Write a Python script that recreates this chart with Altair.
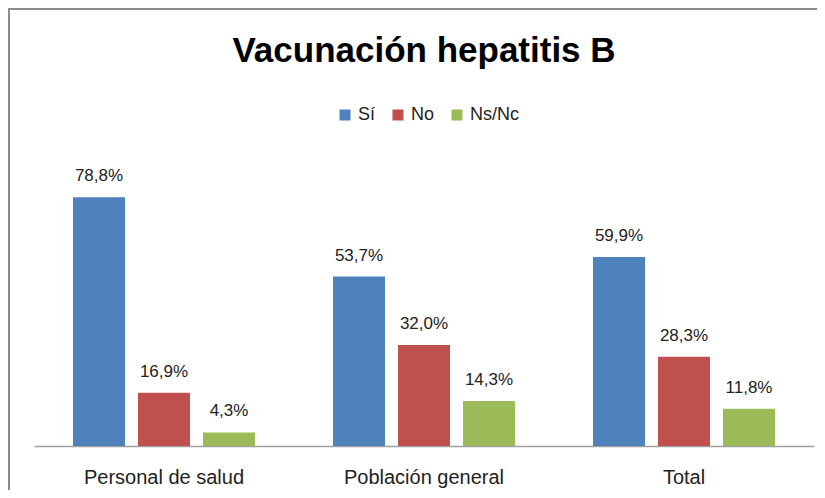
import altair as alt
import pandas as pd

groups = ["Personal de salud", "Población general", "Total"]
series = ["Sí", "No", "Ns/Nc"]
si = [78.8, 53.7, 59.9]
no = [16.9, 32.0, 28.3]
nsnc = [4.3, 14.3, 11.8]
colors = ["#4F81BD", "#C0504D", "#9BBB59"]

rows = []
for s, vals in zip(series, [si, no, nsnc]):
    for g, v in zip(groups, vals):
        rows.append({"grupo": g, "serie": s, "valor": v,
                     "etiqueta": f"{v:.1f}%".replace(".", ",")})
df = pd.DataFrame(rows)

FONT = "Liberation Sans"
W, H = 780, 284

x = alt.X("grupo:N", sort=groups, scale=alt.Scale(paddingInner=0, paddingOuter=0),
          axis=alt.Axis(title=None, ticks=False, labelAngle=0, labelFontSize=20,
                        labelFont=FONT, labelColor="#222222", domainColor="#A0A0A0",
                        domainWidth=1.5, labelBaseline="alphabetic", labelPadding=37))
xo = alt.XOffset("serie:N", sort=series, scale=alt.Scale(paddingInner=0.2, paddingOuter=0.6))
y = alt.Y("valor:Q", scale=alt.Scale(domain=[0, 90]), axis=None)

base = alt.Chart(df)
one = pd.DataFrame({"a": [0]})

frame_top = alt.Chart(one).mark_rule(stroke="#8C8C8C", strokeWidth=2, clip=False).encode(
    x=alt.value(-26), x2=alt.value(800), y=alt.value(-153))
frame_left = alt.Chart(one).mark_rule(stroke="#8C8C8C", strokeWidth=2, clip=False).encode(
    x=alt.value(-25), y=alt.value(-154), y2=alt.value(340))

bars = base.mark_bar().encode(
    x=x, xOffset=xo, y=y,
    color=alt.Color("serie:N", sort=series,
                    scale=alt.Scale(domain=series, range=colors),
                    legend=alt.Legend(title=None, orient="none", direction="horizontal",
                                      legendX=302, legendY=-56, symbolType="square",
                                      symbolSize=121, symbolStrokeWidth=0, symbolOpacity=1,
                                      labelFontSize=18, labelFont=FONT, labelColor="#222222",
                                      labelOffset=4, columnPadding=13, padding=0)),
)

labels = base.mark_text(baseline="alphabetic", dy=-16, fontSize=17, font=FONT,
                        color="#222222").encode(
    x=x, xOffset=xo, y=y, text="etiqueta:N"
)

chart = alt.layer(frame_top, frame_left, bars, labels).properties(
    width=W, height=H, background="white",
    title=alt.TitleParams("Vacunación hepatitis B", font=FONT, fontSize=35,
                          fontWeight="bold", color="#000000", anchor="middle",
                          baseline="alphabetic", offset=-90),
    autosize=alt.AutoSizeParams(type="none"),
    padding={"left": 26, "top": 154, "right": 3, "bottom": 44},
).configure_view(stroke="transparent", strokeWidth=0)

chart.save("out.html", embed_options={"renderer": "svg", "actions": False})
